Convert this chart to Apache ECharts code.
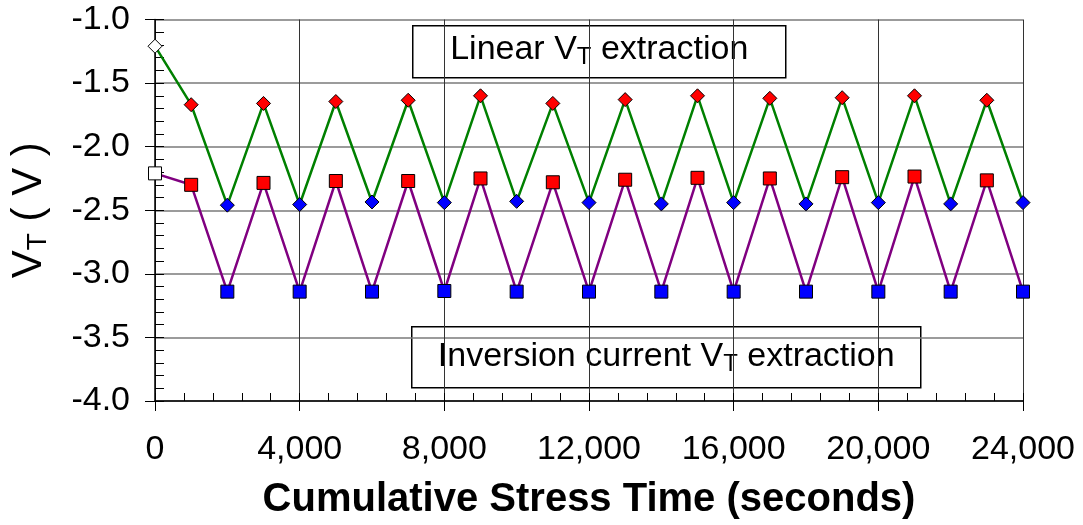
<!DOCTYPE html>
<html>
<head>
<meta charset="utf-8">
<style>
  html, body { margin: 0; padding: 0; background: #fff; }
  #chart { width: 1083px; height: 525px; }
</style>
<script src="https://cdn.jsdelivr.net/npm/echarts@6/dist/echarts.min.js"></script>
</head>
<body>
<div id="chart"></div>
<script>
// Cumulative stress time (s)
const timeSec = [0, 1000, 2000, 3000, 4000, 5000, 6000, 7000, 8000, 9000, 10000, 11000, 12000,
  13000, 14000, 15000, 16000, 17000, 18000, 19000, 20000, 21000, 22000, 23000, 24000];
// Threshold voltage from linear extraction (V)
const linearVt = [-1.21, -1.67, -2.46, -1.66, -2.455, -1.645, -2.435, -1.635, -2.44, -1.60, -2.43, -1.66, -2.44,
  -1.63, -2.45, -1.60, -2.44, -1.62, -2.45, -1.615, -2.44, -1.60, -2.45, -1.635, -2.44];
// Threshold voltage from inversion current extraction (V)
const inversionVt = [-2.21, -2.30, -3.14, -2.285, -3.14, -2.27, -3.14, -2.27, -3.135, -2.25, -3.14, -2.28, -3.14,
  -2.26, -3.14, -2.245, -3.14, -2.25, -3.14, -2.24, -3.14, -2.235, -3.14, -2.265, -3.14];

const font = '"Liberation Sans", Arial, sans-serif';

// First point is the fresh device (open marker), then stress (red) / recovery (blue) alternate
function markerFill(i) {
  if (i === 0) return '#ffffff';
  return i % 2 === 1 ? '#ff0000' : '#0000ff';
}

function points(values) {
  return values.map((v, i) => ({
    value: [timeSec[i], v],
    itemStyle: { color: markerFill(i), borderColor: '#000', borderWidth: 1 }
  }));
}

const chart = echarts.init(document.getElementById('chart'));

const xRange = { min: 0, max: 24000 };
const yRange = { min: -4.0, max: -1.0 };

const boxSub = { fontFamily: font, fontSize: 24, verticalAlign: 'bottom', lineHeight: 40 };

chart.setOption({
  animation: false,
  backgroundColor: '#ffffff',
  grid: { left: 155, top: 19.5, width: 868, height: 384, containLabel: false },
  xAxis: [
    {
      type: 'value', ...xRange, interval: 4000,
      axisLine: { show: true, onZero: false, lineStyle: { color: '#000', width: 1.5 } },
      axisTick: { show: true, inside: false, length: 10, lineStyle: { color: '#000', width: 1 } },
      splitLine: { show: true, lineStyle: { color: '#333', width: 1 } },
      axisLabel: {
        margin: 32, color: '#000', fontFamily: font, fontSize: 34,
        formatter: v => v.toLocaleString('en-US')
      },
      name: 'Cumulative Stress Time (seconds)',
      nameLocation: 'middle', nameGap: 79,
      nameTextStyle: { color: '#000', fontFamily: font, fontSize: 40, fontWeight: 'bold' }
    },
    {
      // inward minor ticks
      type: 'value', ...xRange, interval: 800, position: 'bottom',
      axisLine: { show: false },
      axisTick: { show: true, inside: true, length: 8, lineStyle: { color: '#000', width: 1 } },
      splitLine: { show: false }, axisLabel: { show: false }
    }
  ],
  yAxis: [
    {
      type: 'value', ...yRange, interval: 0.5,
      axisLine: { show: true, onZero: false, lineStyle: { color: '#000', width: 1.5 } },
      axisTick: { show: true, inside: false, length: 10, lineStyle: { color: '#000', width: 1 } },
      splitLine: { show: true, lineStyle: { color: '#7a7a7a', width: 1.5 } },
      axisLabel: {
        margin: 25, color: '#000', fontFamily: font, fontSize: 34,
        formatter: v => v.toFixed(1)
      },
      name: 'V{sub|T} ( V )',
      nameLocation: 'middle', nameGap: 103, nameRotate: 90,
      nameTextStyle: {
        color: '#000', fontFamily: font, fontSize: 42,
        rich: { sub: { fontFamily: font, fontSize: 28, verticalAlign: 'bottom', lineHeight: 46 } }
      }
    },
    {
      // inward minor ticks
      type: 'value', ...yRange, interval: 0.1, position: 'left',
      axisLine: { show: false },
      axisTick: { show: true, inside: true, length: 9, lineStyle: { color: '#000', width: 1 } },
      splitLine: { show: false }, axisLabel: { show: false }
    }
  ],
  series: [
    {
      name: 'Linear VT extraction',
      type: 'line', xAxisIndex: 0, yAxisIndex: 0,
      data: points(linearVt),
      symbol: 'diamond', symbolSize: 14,
      lineStyle: { color: '#008000', width: 2.5 },
      z: 3
    },
    {
      name: 'Inversion current VT extraction',
      type: 'line', xAxisIndex: 0, yAxisIndex: 0,
      data: points(inversionVt),
      symbol: 'rect', symbolSize: 13,
      lineStyle: { color: '#800080', width: 2.5 },
      z: 3
    }
  ],
  graphic: [
    {
      type: 'group', left: 412, top: 25, z: 10,
      children: [
        { type: 'rect', shape: { x: 0, y: 0, width: 373, height: 52 },
          style: { fill: '#fff', stroke: '#000', lineWidth: 1.5 } },
        { type: 'text', x: 186.5, y: 24,
          style: {
            text: 'Linear V{sub|T} extraction', align: 'center', verticalAlign: 'middle',
            fill: '#000', font: '34px ' + font,
            rich: { sub: boxSub }
          } }
      ]
    },
    {
      type: 'group', left: 411, top: 326, z: 10,
      children: [
        { type: 'rect', shape: { x: 0, y: 0, width: 509, height: 61 },
          style: { fill: '#fff', stroke: '#000', lineWidth: 1.5 } },
        { type: 'text', x: 254.5, y: 30,
          style: {
            text: 'Inversion current V{sub|T} extraction', align: 'center', verticalAlign: 'middle',
            fill: '#000', font: '34px ' + font,
            rich: { sub: boxSub }
          } }
      ]
    }
  ]
});
</script>
</body>
</html>
